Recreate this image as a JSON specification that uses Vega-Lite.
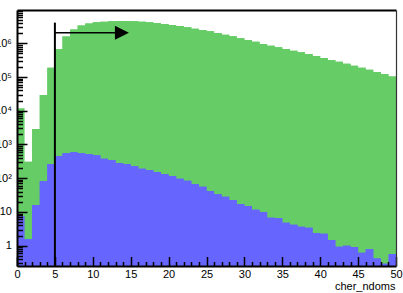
{
  "$schema": "https://vega.github.io/schema/vega-lite/v6.json",
  "width": 379,
  "height": 256,
  "autosize": {"type": "none"},
  "padding": {"left": 17, "top": 10, "right": 7, "bottom": 27},
  "config": {
    "view": {"stroke": null},
    "axis": {"labelFont": "Liberation Sans", "titleFont": "Liberation Sans", "labelColor": "#000", "titleColor": "#000", "domainColor": "#000", "grid": false, "labelFlush": false, "labelOverlap": false}
  },
  "datasets": {
    "hist": [
      {"lo": 0, "hi": 1, "all": 11850, "sel": 7.6},
      {"lo": 1, "hi": 2, "all": 309, "sel": 1.55},
      {"lo": 2, "hi": 3, "all": 2884, "sel": 16.1},
      {"lo": 3, "hi": 4, "all": 29380, "sel": 82.8},
      {"lo": 4, "hi": 5, "all": 189200, "sel": 264},
      {"lo": 5, "hi": 6, "all": 665000, "sel": 456},
      {"lo": 6, "hi": 7, "all": 1593000, "sel": 548},
      {"lo": 7, "hi": 8, "all": 2570000, "sel": 587},
      {"lo": 8, "hi": 9, "all": 3377000, "sel": 548},
      {"lo": 9, "hi": 10, "all": 3870000, "sel": 513},
      {"lo": 10, "hi": 11, "all": 4200000, "sel": 479},
      {"lo": 11, "hi": 12, "all": 4380000, "sel": 380},
      {"lo": 12, "hi": 13, "all": 4500000, "sel": 340},
      {"lo": 13, "hi": 14, "all": 4590000, "sel": 283},
      {"lo": 14, "hi": 15, "all": 4590000, "sel": 264},
      {"lo": 15, "hi": 16, "all": 4500000, "sel": 226},
      {"lo": 16, "hi": 17, "all": 4380000, "sel": 192},
      {"lo": 17, "hi": 18, "all": 4200000, "sel": 175},
      {"lo": 18, "hi": 19, "all": 4000000, "sel": 153},
      {"lo": 19, "hi": 20, "all": 3740000, "sel": 134},
      {"lo": 20, "hi": 21, "all": 3490000, "sel": 116},
      {"lo": 21, "hi": 22, "all": 3260000, "sel": 96.9},
      {"lo": 22, "hi": 23, "all": 2990000, "sel": 84.5},
      {"lo": 23, "hi": 24, "all": 2710000, "sel": 67.5},
      {"lo": 24, "hi": 25, "all": 2480000, "sel": 56.1},
      {"lo": 25, "hi": 26, "all": 2270000, "sel": 41.9},
      {"lo": 26, "hi": 27, "all": 2020000, "sel": 33.4},
      {"lo": 27, "hi": 28, "all": 1800000, "sel": 28.4},
      {"lo": 28, "hi": 29, "all": 1620000, "sel": 22.7},
      {"lo": 29, "hi": 30, "all": 1410000, "sel": 17.2},
      {"lo": 30, "hi": 31, "all": 1250000, "sel": 15.0},
      {"lo": 31, "hi": 32, "all": 1120000, "sel": 11.7},
      {"lo": 32, "hi": 33, "all": 955000, "sel": 9.98},
      {"lo": 33, "hi": 34, "all": 850000, "sel": 6.76},
      {"lo": 34, "hi": 35, "all": 762000, "sel": 6.49},
      {"lo": 35, "hi": 36, "all": 679000, "sel": 4.81},
      {"lo": 36, "hi": 37, "all": 604000, "sel": 4.2},
      {"lo": 37, "hi": 38, "all": 542000, "sel": 3.66},
      {"lo": 38, "hi": 39, "all": 482000, "sel": 3.42},
      {"lo": 39, "hi": 40, "all": 421000, "sel": 2.38},
      {"lo": 40, "hi": 41, "all": 367000, "sel": 2.27},
      {"lo": 41, "hi": 42, "all": 320000, "sel": 1.48},
      {"lo": 42, "hi": 43, "all": 285000, "sel": 0.93},
      {"lo": 43, "hi": 44, "all": 249000, "sel": 1.0},
      {"lo": 44, "hi": 45, "all": 217000, "sel": 0.91},
      {"lo": 45, "hi": 46, "all": 189000, "sel": 0.62},
      {"lo": 46, "hi": 47, "all": 165000, "sel": 0.78},
      {"lo": 47, "hi": 48, "all": 141000, "sel": 0.42},
      {"lo": 48, "hi": 49, "all": 123000, "sel": 0.29},
      {"lo": 49, "hi": 50, "all": 105000, "sel": 0.57}
    ],
    "cut": [
      {"cut": 5, "top": 4100000, "arrowY": 2070000, "arrowEnd": 13.84}
    ]
  },
  "layer": [
    {
      "data": {"name": "hist"},
      "mark": {"type": "area", "interpolate": "step-after", "fill": "#66cc66", "fillOpacity": 1, "strokeWidth": 0},
      "encoding": {
        "x": {"field": "lo", "type": "quantitative",
          "scale": {"domain": [0, 50], "nice": false, "zero": false},
          "axis": {"orient": "bottom", "values": [0, 5, 10, 15, 20, 25, 30, 35, 40, 45, 50], "ticks": false, "labelPadding": 2, "labelFontSize": 11, "domainWidth": 2, "zindex": 1,
            "title": "cher_ndoms", "titleFontSize": 11, "titleFontWeight": "normal", "titleAnchor": "end", "titleAlign": "right", "titleBaseline": "alphabetic", "titleX": 378, "titleY": 23}},
        "y": {"field": "all", "type": "quantitative",
          "scale": {"type": "log", "domain": [0.25, 9700000], "nice": false},
          "axis": {"orient": "left", "values": [1, 10, 100, 1000, 10000, 100000, 1000000], "ticks": false, "labelPadding": 5.6, "labelFontSize": 11, "domainWidth": 2, "zindex": 1, "title": null,
            "labelExpr": "datum.value < 5 ? '1' : datum.value < 50 ? '10' : '10' + ['⁰','¹','²','³','⁴','⁵','⁶','⁷'][round(log(datum.value)/LN10)]"}},
        "y2": {"datum": 0.25}
      }
    },
    {
      "data": {"name": "hist"},
      "mark": {"type": "area", "interpolate": "step-before", "fill": "#66cc66", "fillOpacity": 1, "strokeWidth": 0},
      "encoding": {
        "x": {"field": "hi", "type": "quantitative", "axis": null},
        "y": {"field": "all", "type": "quantitative", "axis": null},
        "y2": {"datum": 0.25}
      }
    },
    {
      "data": {"name": "hist"},
      "mark": {"type": "area", "interpolate": "step-after", "fill": "#6666ff", "fillOpacity": 1, "strokeWidth": 0},
      "encoding": {
        "x": {"field": "lo", "type": "quantitative",
          "axis": {"orient": "bottom", "values": [1,2,3,4,6,7,8,9,11,12,13,14,16,17,18,19,21,22,23,24,26,27,28,29,31,32,33,34,36,37,38,39,41,42,43,44,46,47,48,49], "offset": -4.5, "ticks": true, "tickSize": 4.5, "tickWidth": 1.5, "tickColor": "#000", "tickOpacity": 1, "labels": false, "domain": false, "zindex": 2, "title": null}},
        "y": {"field": "sel", "type": "quantitative",
          "axis": {"orient": "left", "values": [0.3,0.4,0.5,0.6,0.7,0.8,0.9,2,3,4,5,6,7,8,9,20,30,40,50,60,70,80,90,200,300,400,500,600,700,800,900,2000,3000,4000,5000,6000,7000,8000,9000,20000,30000,40000,50000,60000,70000,80000,90000,200000,300000,400000,500000,600000,700000,800000,900000,2000000,3000000,4000000,5000000,6000000,7000000,8000000,9000000], "offset": -5.5, "ticks": true, "tickSize": 5.5, "tickWidth": 1.5, "tickColor": "#000", "tickOpacity": 1, "labels": false, "domain": false, "zindex": 2, "title": null}},
        "y2": {"datum": 0.25}
      }
    },
    {
      "data": {"name": "hist"},
      "mark": {"type": "area", "interpolate": "step-before", "fill": "#6666ff", "fillOpacity": 1, "strokeWidth": 0},
      "encoding": {
        "x": {"field": "hi", "type": "quantitative", "axis": null},
        "y": {"field": "sel", "type": "quantitative", "axis": null},
        "y2": {"datum": 0.25}
      }
    },
    {
      "data": {"name": "cut"},
      "mark": {"type": "rule", "color": "#000", "strokeWidth": 2},
      "encoding": {
        "x": {"field": "cut", "type": "quantitative",
          "axis": {"orient": "top", "labels": false, "ticks": false, "domainWidth": 2, "zindex": 3, "title": null}},
        "y": {"field": "top", "type": "quantitative",
          "axis": {"orient": "right", "labels": false, "ticks": false, "domainWidth": 1.2, "domainColor": "#333", "zindex": 3, "title": null}},
        "y2": {"datum": 0.25}
      }
    },
    {
      "data": {"name": "cut"},
      "mark": {"type": "rule", "color": "#000", "strokeWidth": 1.5},
      "encoding": {
        "x": {"field": "cut", "type": "quantitative",
          "axis": {"orient": "bottom", "values": [0, 5, 10, 15, 20, 25, 30, 35, 40, 45, 50], "offset": -9.5, "ticks": true, "tickSize": 9.5, "tickWidth": 1.5, "tickColor": "#000", "tickOpacity": 1, "labels": false, "domain": false, "zindex": 2, "title": null}},
        "x2": {"field": "arrowEnd"},
        "y": {"field": "arrowY", "type": "quantitative",
          "axis": {"orient": "left", "values": [1, 10, 100, 1000, 10000, 100000, 1000000], "offset": -10, "ticks": true, "tickSize": 10, "tickWidth": 1.5, "tickColor": "#000", "tickOpacity": 1, "labels": false, "domain": false, "zindex": 2, "title": null}}
      }
    },
    {
      "data": {"name": "cut"},
      "mark": {"type": "point", "shape": "M-1,-1L1,0L-1,1Z", "size": 196, "filled": true, "color": "#000", "opacity": 1},
      "encoding": {
        "x": {"field": "arrowEnd", "type": "quantitative", "axis": null},
        "y": {"field": "arrowY", "type": "quantitative", "axis": null}
      }
    }
  ],
  "resolve": {"axis": {"x": "independent", "y": "independent"}}
}
